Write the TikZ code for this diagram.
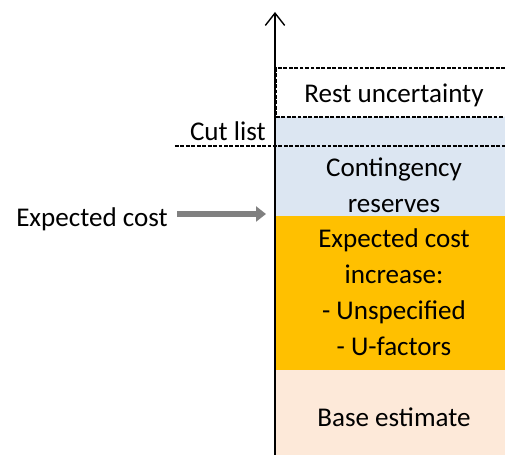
\documentclass[tikz,border=0pt]{standalone}
\usepackage{fontspec}
\setmainfont{Carlito}
\usetikzlibrary{positioning,arrows.meta}
\definecolor{contblue}{HTML}{DCE6F2}
\definecolor{exporange}{HTML}{FFC000}
\definecolor{basepeach}{HTML}{FDE9D9}
\definecolor{pointergray}{HTML}{808080}

\begin{document}
\begin{tikzpicture}[x=0.02cm,y=-0.02cm,
	font=\fontsize{15.4}{20.5}\selectfont,
	bandtext/.style={align=center,inner sep=0pt},
	cutline/.style={line width=1.1pt,dash pattern=on 2.2pt off 0.9pt}]
	\useasboundingbox (0,0) rectangle (505,455);
	%Baender
	\fill[basepeach] (275,370) rectangle (505,455);
	\fill[exporange] (275,216) rectangle (505,370);
	\fill[contblue] (275,117) rectangle (505,216);
	% Texte
	\node[bandtext] (rest) at (394,95) {Rest uncertainty};
	\node[bandtext] (cont) at (394,185) {Contingency\\reserves};
	\node[bandtext] (incr) at (394,292) {Expected cost\\increase:\\- Unspecified\\- U-factors};
	\node[bandtext] (base) at (394,417) {Base estimate};
	\node[anchor=base east,inner sep=0pt] (cut) at (266,141) {Cut list};
	\node[inner sep=0pt] (expected) at (92,219) {Expected cost};
	% gestrichelte Linien
	\draw[cutline] (505,68) -- (276,68) -- (276,117) -- (505,117);
	\draw[cutline] (175,146) -- (505,146);
	% Achse
	\draw[-{Straight Barb[length=7pt,width=11pt]},line width=0.8pt] (275,455) -- (275,12);
	% Pfeil
	\coordinate (pointer) at (266,214);
	\draw[pointergray,line width=3.4pt,-{Triangle[length=0.2cm,width=0.3cm]}]
		([xshift=0.18cm]expected.east |- pointer) -- (pointer);
\end{tikzpicture}
\end{document}
